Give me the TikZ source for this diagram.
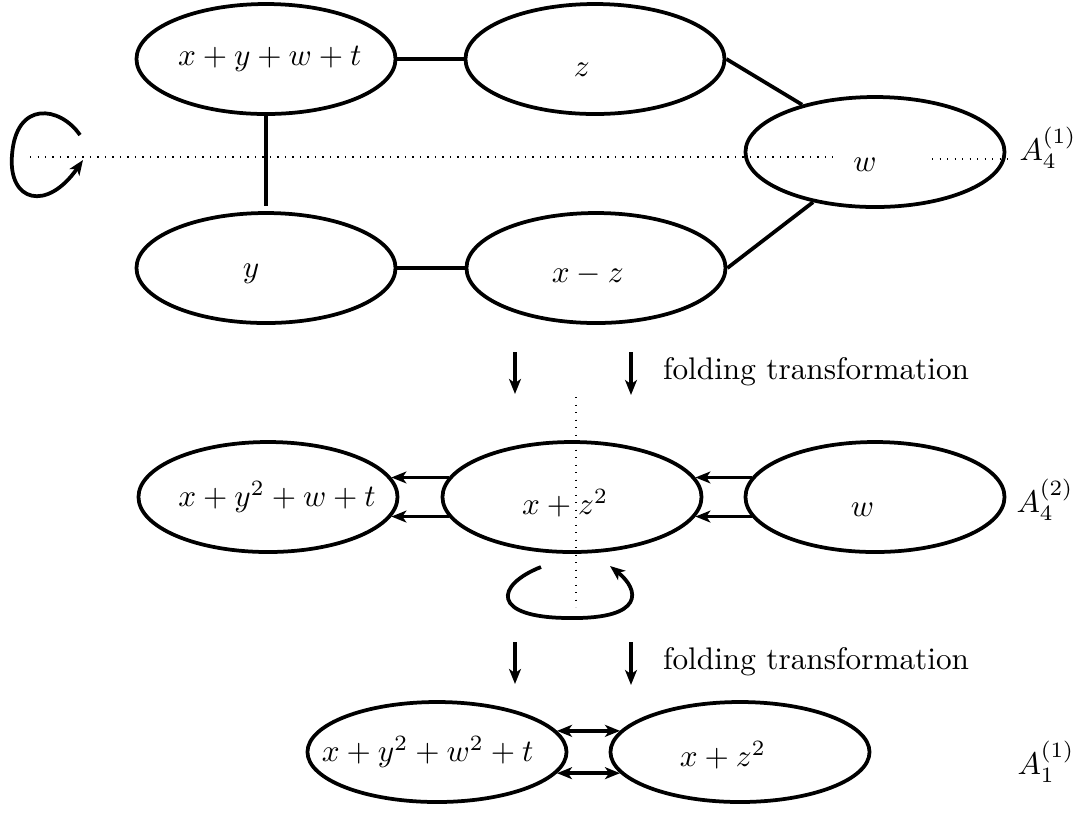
\documentclass[tikz,border=0pt]{standalone}
\usepackage{amsmath}
\usetikzlibrary{shapes.geometric, arrows.meta}

\begin{document}
\begin{tikzpicture}[x=0.32pt, y=-0.32pt,
  >={Stealth[length=4.8pt, width=3.8pt, inset=1.3pt]},
  blob/.style={draw, ellipse, very thick, minimum width=82.9pt, minimum height=35.2pt, inner sep=0pt},
  link/.style={very thick},
  flow/.style={->, very thick},
  axis/.style={dotted}]
\useasboundingbox (0,0) rectangle (1079,812);

% first quiver
\node[blob, label={[shift={(1.2pt,0pt)}]center:$x+y+w+t$}] (sum) at (266,59) {};
\node[blob, label={[shift={(-4.2pt,-3.5pt)}]center:$z$}] (zz) at (595,59) {};
\node[blob, label={[shift={(-3.2pt,-4pt)}]center:$w$}] (ww) at (875,152) {};
\node[blob, label={[shift={(-4.8pt,-2pt)}]center:$y$}] (yy) at (266,268) {};
\node[blob, label={[shift={(-2.6pt,-2.2pt)}]center:$x-z$}] (xz) at (596,268) {};
\draw[link] (sum) -- (zz);
\draw[link, shorten >=1.6pt] (sum.south) -- (yy.north);
\draw[link] (zz.east) -- (ww.147);
\draw[link] (xz.east) -- (ww.219);
\draw[link] (yy) -- (xz);
\draw[axis] (30,157) -- (833,157);
\draw[axis] (932,159) -- (1010,159);
\draw[very thick, ->] (80,135) .. controls (60,106) and (16,100) .. (12,155) .. controls (8,202) and (47,212) .. (83,160);
\node (a41) at (1048,148) {$A_4^{(1)}$};

% folding
\coordinate (f1a) at (515,352);
\coordinate (f1b) at (515,394);
\coordinate (f2a) at (631,352);
\coordinate (f2b) at (631,395);
\draw[flow] (f1a) -- (f1b);
\draw[flow] (f2a) -- (f2b);
\node[anchor=west] (fold1) at (652,372) {folding transformation};

% second quiver
\node[blob, label={[shift={(2.9pt,0pt)}]center:$x+y^2+w+t$}] (fy) at (268,497) {};
\node[blob, label={[shift={(-2.2pt,-2pt)}]center:$x+z^2$}] (fz) at (572,497) {};
\node[blob, label={[shift={(-4pt,-4pt)}]center:$w$}] (fw) at (875,497) {};
\draw[flow] (fz.171) -- (fy.9);
\draw[flow] (fz.189) -- (fy.-9);
\draw[flow] (fw.171) -- (fz.9);
\draw[flow] (fw.189) -- (fz.-9);
\draw[axis] (576,397) -- (576,607);
\draw[very thick, ->] (541,567) .. controls (495,585) and (490,618) .. (570,618) .. controls (645,619) and (640,590) .. (610,566);
\node (a42) at (1045,500) {$A_4^{(2)}$};

% folding again
\coordinate (f3a) at (515,642);
\coordinate (f3b) at (515,684);
\coordinate (f4a) at (631,642);
\coordinate (f4b) at (631,685);
\draw[flow] (f3a) -- (f3b);
\draw[flow] (f4a) -- (f4b);
\node[anchor=west] (fold2) at (652,662) {folding transformation};

% third quiver
\node[blob, minimum height=32pt, label={[shift={(-3pt,0pt)}]center:$x+y^2+w^2+t$}] (by) at (437,752) {};
\node[blob, minimum height=32pt, label={[shift={(-5.5pt,-1pt)}]center:$x+z^2$}] (bz) at (740,752) {};
\draw[<->, very thick] (by.10) -- (bz.170);
\draw[<->, very thick] (by.-10) -- (bz.190);
\node (a11) at (1046,762) {$A_1^{(1)}$};
\end{tikzpicture}
\end{document}
